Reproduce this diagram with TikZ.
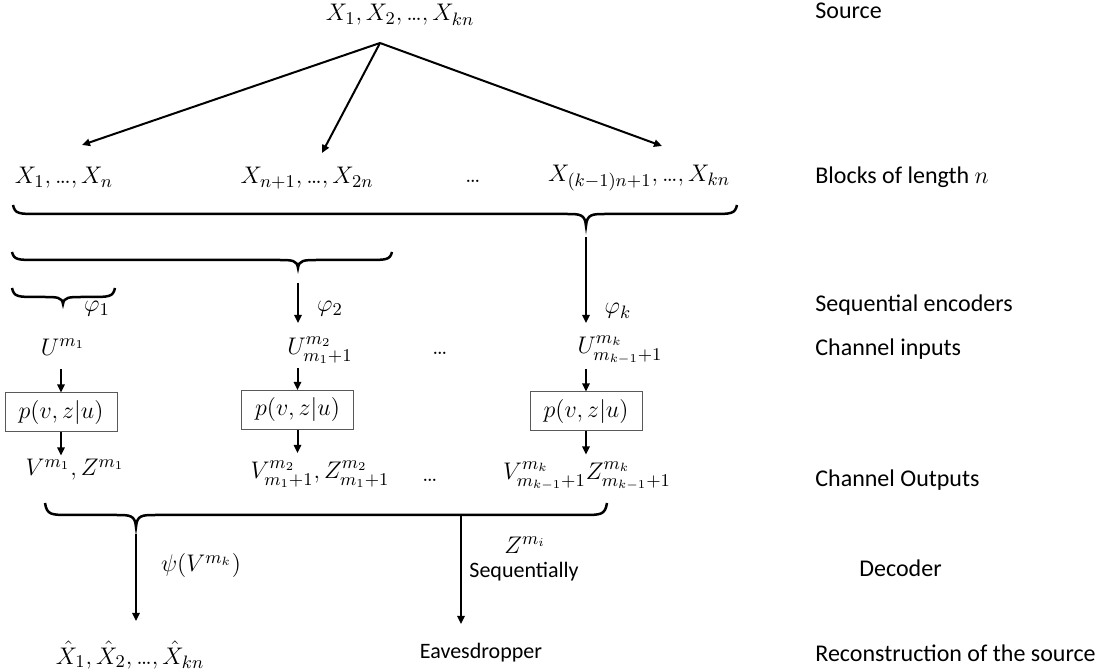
\documentclass[tikz,border=0pt]{standalone}
\usepackage{fontspec}
\setmainfont{Carlito}
\usetikzlibrary{arrows.meta}
\newcommand{\ed}{\mathord{.\mkern-1.5mu.\mkern-1.5mu.}}
\newcommand{\hbrace}[6]{% L, T, R, yend, ymid, ytip
  \draw[bracestyle] (#1,#4) .. controls (#1+2,#5) and (#1+6,#5) .. (#1+25,#5)
    -- (#2-20,#5) .. controls (#2-6,#5) and (#2-1,#5) .. (#2,#6)
    .. controls (#2+1,#5) and (#2+6,#5) .. (#2+20,#5)
    -- (#3-25,#5) .. controls (#3-6,#5) and (#3-2,#5) .. (#3,#4);}
\begin{document}
\begin{tikzpicture}[x=0.5pt,y=-0.5pt,
  every node/.style={inner sep=1pt, font=\fontsize{12}{14}\selectfont},
  mth/.style={font=\fontsize{12.5}{14.5}\selectfont},
  midtxt/.style={font=\fontsize{11}{13}\selectfont},
  lbl/.style={anchor=west},
  arr/.style={line width=1pt,-{Triangle[length=4pt,width=3.6pt]}},
  bracestyle/.style={line width=1.25pt},
  chbox/.style={draw=black!65, line width=0.5pt, minimum width=56pt, minimum height=19.5pt, inner sep=0pt}]
\useasboundingbox (0,0) rectangle (1103,672);

% source and tree
\node[mth] (src) at (400,15) {$X_1,X_2,\ed,X_{kn}$};
\coordinate (apex) at (380,43);
\coordinate (a1) at (82,145);
\coordinate (a2) at (322,153);
\coordinate (a3) at (662,146);
\draw[arr] (apex) -- (a1);
\draw[arr] (apex) -- (a2);
\draw[arr] (apex) -- (a3);

% blocks
\node[mth] (bl1) at (64,178) {$X_1,\ed,X_n$};
\node[mth] (bl2) at (307,178) {$X_{n+1},\ed,X_{2n}$};
\node[mth] (bldots) at (473,181) {$\ed$};
\node[mth] (bl3) at (639,178) {$X_{(k-1)n+1},\ed,X_{kn}$};

% braces
\hbrace{13}{586}{737}{205}{214}{226}
\hbrace{12}{298}{392}{252}{260}{268}
\hbrace{12}{63}{115}{288}{297}{304}

\coordinate (s2) at (298,283);
\coordinate (e2) at (298,323);
\coordinate (sk) at (586,237);
\coordinate (ek) at (586,323);
\draw[arr] (s2) -- (e2);
\draw[arr] (sk) -- (ek);

\node[mth] (phi1) at (97,309) {$\varphi_1$};
\node[mth] (phi2) at (330,309) {$\varphi_2$};
\node[mth] (phik) at (618,311) {$\varphi_k$};

% channel inputs
\node[mth] (u1) at (63,347) {$U^{m_1}$};
\node[mth] (u2) at (320,350) {$U^{m_2}_{m_1+1}$};
\node[mth] (udots) at (440,353) {$\ed$};
\node[mth] (u3) at (620,350) {$U^{m_k}_{m_{k-1}+1}$};

% channels
\node[chbox,mth] (b1) at (61,412.5) {$p(v,z|u)$};
\node[chbox,mth] (b2) at (297.5,410) {$p(v,z|u)$};
\node[chbox,mth] (b3) at (586,411.5) {$p(v,z|u)$};

\draw[arr] ([yshift=11.5pt]b1.north) -- (b1.north);
\draw[arr] ([yshift=11pt]b2.north) -- (b2.north);
\draw[arr] ([yshift=11pt]b3.north) -- (b3.north);
\draw[arr] (b1.south) -- ([yshift=-11.5pt]b1.south);
\draw[arr] (b2.south) -- ([yshift=-11.5pt]b2.south);
\draw[arr] (b3.south) -- ([yshift=-11.5pt]b3.south);

% channel outputs
\node[mth] (o1) at (75,470) {$V^{m_1},Z^{m_1}$};
\node[mth] (o2) at (320,474) {$V^{m_2}_{m_1+1},Z^{m_2}_{m_1+1}$};
\node[mth] (odots) at (430,480) {$\ed$};
\node[mth] (o3) at (587,476) {$V^{m_k}_{m_{k-1}+1}Z^{m_k}_{m_{k-1}+1}$};

% lower brace
\hbrace{45}{136}{607}{503}{515}{527}
\coordinate (ds) at (136,534);
\coordinate (de) at (136,621);
\draw[arr] (ds) -- (de);
\coordinate (es) at (461,515);
\coordinate (ee) at (461,624);
\draw[arr] (es) -- (ee);

\node[mth] (psi) at (201,566) {$\psi(V^{m_k})$};
\node[mth] (zmi) at (525,545) {$Z^{m_i}$};
\node[lbl,midtxt] (seq) at (467,572) {Sequentially};

\node[mth] (xhat) at (130,655) {$\hat X_1,\hat X_2,\ed,\hat X_{kn}$};
\node[midtxt] (eav) at (481,653) {Eavesdropper};

% right labels
\node[lbl] (r1) at (813,11) {Source};
\node[lbl] (r2) at (813,177) {Blocks of length $n$};
\node[lbl] (r3) at (813,305) {Sequential encoders};
\node[lbl] (r4) at (813,349) {Channel inputs};
\node[lbl] (r5) at (813,480) {Channel Outputs};
\node[lbl] (r6) at (857,568) {Decoder};
\node[lbl] (r7) at (813,653) {Reconstruction of the source};
\end{tikzpicture}
\end{document}
